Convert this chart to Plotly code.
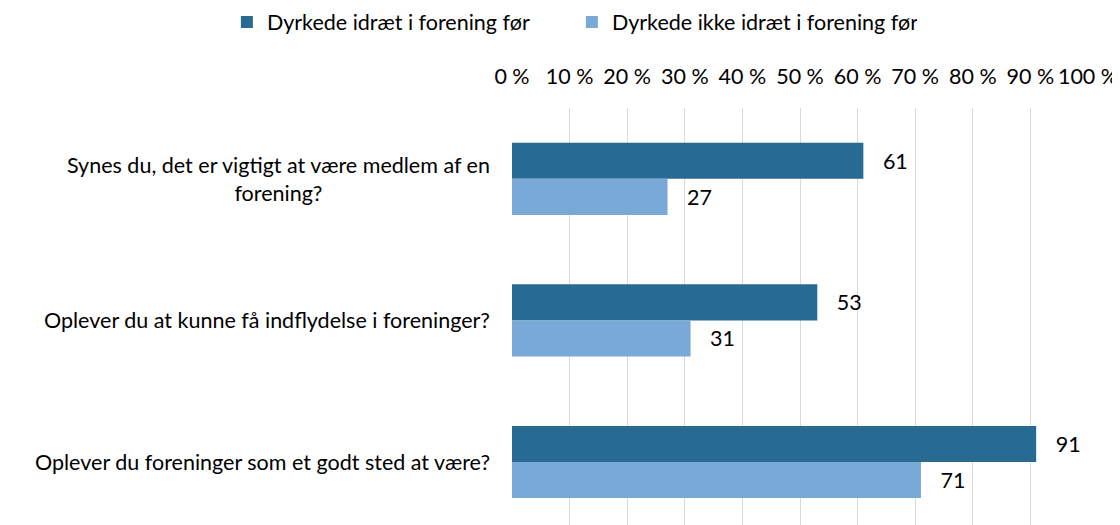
import plotly.graph_objects as go

kategorier = [
    "Synes du, det er vigtigt at være medlem af en<br>forening?",
    "Oplever du at kunne få indflydelse i foreninger?",
    "Oplever du foreninger som et godt sted at være?",
]
serie_navne = ["Dyrkede idræt i forening før", "Dyrkede ikke idræt i forening før"]
dyrkede = [61, 53, 91]
dyrkede_ikke = [27, 31, 71]
farver = ["#276a92", "#78a9d7"]

tickvals = [0, 10, 20, 30, 40, 50, 60, 70, 80, 90, 100]
ticktext = [f"{v} %" for v in tickvals]

FONT = "Lato"
STR = 21.5

fig = go.Figure()

# bars
for navn, vaerdier, farve in zip(serie_navne, [dyrkede, dyrkede_ikke], farver):
    fig.add_trace(
        go.Bar(
            y=list(range(len(kategorier))),
            x=vaerdier,
            name=navn,
            orientation="h",
            marker=dict(color=farve, line=dict(width=0)),
            text=vaerdier,
            texttemplate="   %{x}",
            textposition="outside",
            textfont=dict(family=FONT, size=STR, color="#000000"),
            cliponaxis=False,
        )
    )

# category labels, centered lines like the original
for i, kat in enumerate(kategorier):
    fig.add_annotation(
        x=0,
        xref="paper",
        y=i,
        yref="y",
        text=kat,
        showarrow=False,
        xanchor="right",
        xshift=-20,
        align="center",
        font=dict(family=FONT, size=STR, color="#000000"),
    )

# page body has an 8px margin, so the figure is a bit smaller than the window
fig.update_layout(
    width=1112,
    height=517,
    margin=dict(l=504, r=32, t=100, b=0, autoexpand=False),
    barmode="group",
    bargap=0.49,
    bargroupgap=0,
    plot_bgcolor="white",
    paper_bgcolor="white",
    font=dict(family=FONT, size=STR, color="#000000"),
    legend=dict(
        orientation="h",
        x=-0.495,
        xanchor="left",
        xref="paper",
        y=1.206,
        yanchor="middle",
        yref="paper",
        font=dict(family=FONT, size=STR),
        itemwidth=30,
        entrywidth=300,
        entrywidthmode="pixels",
        traceorder="normal",
    ),
    showlegend=True,
)

fig.update_xaxes(
    side="top",
    range=[0, 100],
    tickvals=tickvals,
    ticktext=ticktext,
    tickangle=0,
    showgrid=True,
    gridcolor="#d9d9d9",
    gridwidth=1,
    zeroline=False,
    showline=False,
    ticks="outside",
    ticklen=14,
    tickcolor="white",
    tickfont=dict(family=FONT, size=STR),
)

fig.update_yaxes(
    range=[2.445, -0.5],
    showticklabels=False,
    showgrid=False,
    zeroline=False,
    showline=False,
)

fig.write_html("out.html")
